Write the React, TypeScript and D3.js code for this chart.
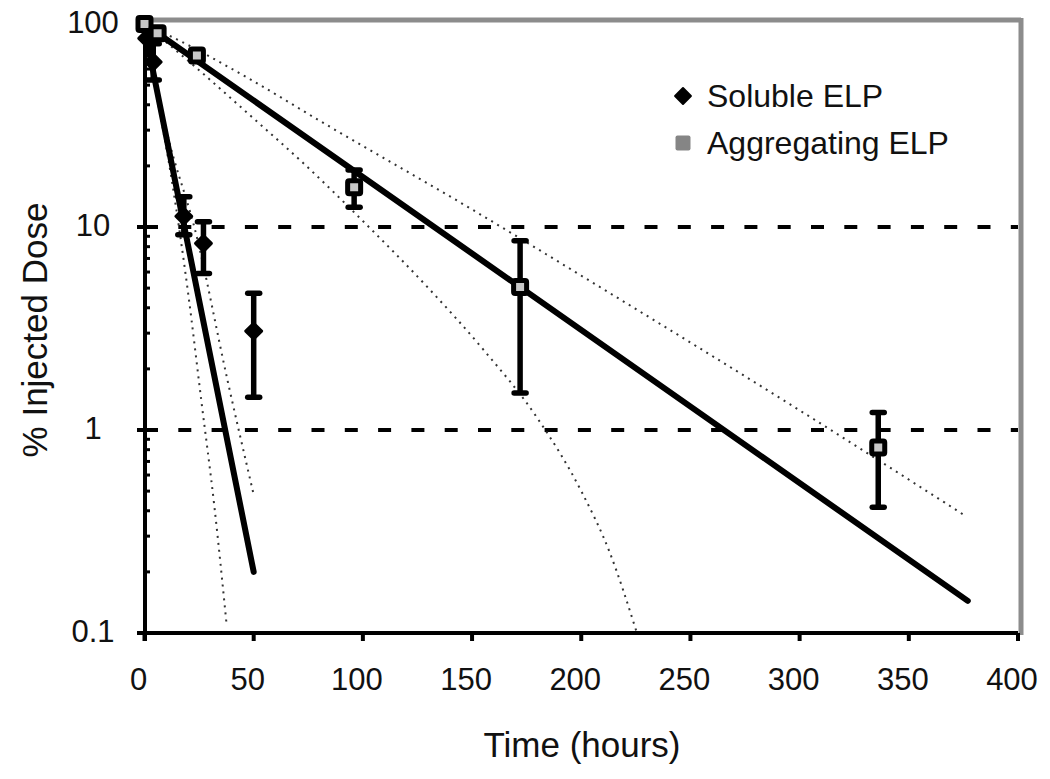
import React from 'react';
import * as d3 from 'd3';

// ---- axis ticks ----
const xTicks = [0, 50, 100, 150, 200, 250, 300, 350, 400];
const yTickValues = [0.1, 1, 10, 100];
const yTickLabels = ['0.1', '1', '10', '100'];
const gridValues = [1, 10];

// ---- Soluble ELP (black diamonds) ----
const solubleTime = [1, 4, 18, 27, 50];
const solubleMean = [85, 65, 11.3, 8.3, 3.07];
const solubleLow = [85, 53, 9.15, 5.9, 1.45];
const solubleHigh = [85, 80, 14.1, 10.6, 4.72];

// ---- Aggregating ELP (squares) ----
const aggTime = [0, 6, 24, 96, 172, 336];
const aggMean = [100, 90, 70, 15.7, 5.06, 0.82];
const aggLow = [100, 90, 70, 12.5, 1.52, 0.416];
const aggHigh = [100, 90, 70, 19.1, 8.56, 1.22];

// ---- fitted lines ----
const solubleFitTime = [0, 50];
const solubleFitValue = [95, 0.2];
const aggFitTime = [0, 377];
const aggFitValue = [100, 0.144];

// ---- confidence bands (dotted) ----
const solubleUpperTime = [0, 10, 24, 38, 50];
const solubleUpperValue = [97, 30, 8.9, 1.76, 0.48];
const solubleLowerTime = [0, 5, 12.5, 20, 26, 32, 37.6];
const solubleLowerValue = [93, 48, 17, 4.7, 1.4, 0.42, 0.11];
const aggUpperTime = [0, 12, 48, 81, 150, 207, 300, 376.5];
const aggUpperValue = [100, 87, 53.7, 33, 12.2, 5.18, 1.25, 0.374];
const aggLowerTime = [0, 24, 50, 73, 100, 130, 155, 180, 200, 213, 225.5];
const aggLowerValue = [100, 60.5, 34.2, 20.5, 10.7, 5.0, 2.5, 1.14, 0.5, 0.25, 0.1];

const seriesNames = ['Soluble ELP', 'Aggregating ELP'];

const FONT = '"Liberation Sans", Arial, sans-serif';

export default function App() {
  const x = d3.scaleLinear().domain([0, 400]).range([144.5, 1018]);
  const y = d3.scaleLog().domain([0.1, 100]).range([633, 24]);

  const zip = (ts: number[], vs: number[]) => ts.map((t, i) => [t, vs[i]] as [number, number]);
  const straight = d3.line<[number, number]>().x(d => x(d[0])).y(d => y(d[1]));
  const curved = d3
    .line<[number, number]>()
    .x(d => x(d[0]))
    .y(d => y(d[1]))
    .curve(d3.curveMonotoneX);

  const minorTicks = y.ticks().filter(v => !yTickValues.some(t => Math.abs(t - v) < 1e-9));

  const diamond = d3.symbol().type(d3.symbolDiamond2).size(160)();

  const bands = [
    zip(solubleUpperTime, solubleUpperValue),
    zip(solubleLowerTime, solubleLowerValue),
    zip(aggUpperTime, aggUpperValue),
    zip(aggLowerTime, aggLowerValue),
  ];

  const errBar = (t: number, lo: number, hi: number, key: string) => {
    if (Math.abs(hi - lo) < 1e-9) return null;
    const cx = x(t);
    return (
      <g key={key}>
        <line x1={cx} x2={cx} y1={y(lo)} y2={y(hi)} stroke="#000" strokeWidth={5.5} />
        <line x1={cx - 6} x2={cx + 6} y1={y(lo)} y2={y(lo)} stroke="#000" strokeWidth={5.5} strokeLinecap="round" />
        <line x1={cx - 6} x2={cx + 6} y1={y(hi)} y2={y(hi)} stroke="#000" strokeWidth={5.5} strokeLinecap="round" />
      </g>
    );
  };

  return (
    <svg
      width={1050}
      height={779}
      style={{ position: 'absolute', left: 0, top: 0, background: '#fff' }}
      fontFamily={FONT}
    >
      <rect x={0} y={0} width={1050} height={779} fill="#fff" />

      {/* gray top/right frame */}
      <line x1={145} x2={1021} y1={20} y2={20} stroke="#8c8c8c" strokeWidth={5} />
      <line x1={1021} x2={1021} y1={18} y2={635} stroke="#8c8c8c" strokeWidth={5} />

      {/* dashed gridlines */}
      {gridValues.map(v => (
        <line
          key={'g' + v}
          x1={145}
          x2={1018}
          y1={y(v)}
          y2={y(v)}
          stroke="#000"
          strokeWidth={4}
          strokeDasharray="13,20.3"
        />
      ))}

      {/* confidence bands */}
      {bands.map((b, i) => (
        <path
          key={'b' + i}
          d={curved(b) || ''}
          fill="none"
          stroke="#333"
          strokeWidth={2}
          strokeDasharray="2,5"
        />
      ))}

      {/* fitted lines */}
      <path
        d={straight(zip(solubleFitTime, solubleFitValue)) || ''}
        fill="none"
        stroke="#000"
        strokeWidth={6}
        strokeLinecap="round"
      />
      <path
        d={straight(zip(aggFitTime, aggFitValue)) || ''}
        fill="none"
        stroke="#000"
        strokeWidth={6}
        strokeLinecap="round"
      />

      {/* axes */}
      <line x1={145} x2={145} y1={22} y2={641} stroke="#000" strokeWidth={4} />
      <line x1={137} x2={1018} y1={633} y2={633} stroke="#000" strokeWidth={4} />
      {yTickValues.map(v => (
        <line key={'yt' + v} x1={137} x2={145} y1={y(v)} y2={y(v)} stroke="#000" strokeWidth={4} />
      ))}
      {minorTicks.map((v, i) => (
        <line key={'ym' + i} x1={145} x2={150} y1={y(v)} y2={y(v)} stroke="#000" strokeWidth={3} />
      ))}
      {xTicks.map(t => (
        <line key={'xt' + t} x1={x(t)} x2={x(t)} y1={633} y2={641} stroke="#000" strokeWidth={4} />
      ))}

      {/* tick labels */}
      {yTickValues.map((v, i) => (
        <text
          key={'yl' + v}
          x={93}
          y={y(v) - 2}
          textAnchor="middle"
          dominantBaseline="central"
          fontSize={31}
          fill="#111"
        >
          {yTickLabels[i]}
        </text>
      ))}
      {xTicks.map(t => (
        <text key={'xl' + t} x={x(t) - 6} y={690} textAnchor="middle" fontSize={31} fill="#111">
          {t}
        </text>
      ))}

      {/* axis titles */}
      <text x={582} y={757} textAnchor="middle" fontSize={35} fill="#111">
        Time (hours)
      </text>
      <text
        transform="translate(47,330) rotate(-90)"
        textAnchor="middle"
        fontSize={35}
        fill="#111"
      >
        % Injected Dose
      </text>

      {/* error bars */}
      {solubleTime.map((t, i) => errBar(t, solubleLow[i], solubleHigh[i], 'se' + i))}
      {aggTime.map((t, i) => errBar(t, aggLow[i], aggHigh[i], 'ae' + i))}

      {/* markers */}
      {solubleTime.map((t, i) => (
        <path
          key={'sm' + i}
          d={diamond || ''}
          transform={`translate(${x(t)},${y(solubleMean[i])})`}
          fill="#000"
          stroke="#000"
          strokeWidth={3}
          strokeLinejoin="round"
        />
      ))}
      {aggTime.map((t, i) => (
        <rect
          key={'am' + i}
          x={x(t) - 6.5}
          y={y(aggMean[i]) - 6.5}
          width={13}
          height={13}
          rx={1.5}
          fill="#c8c8c8"
          stroke="#000"
          strokeWidth={5}
        />
      ))}

      {/* legend */}
      <path d={diamond || ''} transform="translate(683,96)" fill="#000" stroke="#000" strokeWidth={2} strokeLinejoin="round" />
      <text x={707} y={96} dominantBaseline="central" fontSize={32} fill="#111">
        {seriesNames[0]}
      </text>
      <rect x={675.5} y={135.5} width={15} height={15} rx={2} fill="#858585" />
      <text x={707} y={143} dominantBaseline="central" fontSize={32} fill="#111">
        {seriesNames[1]}
      </text>
    </svg>
  );
}
